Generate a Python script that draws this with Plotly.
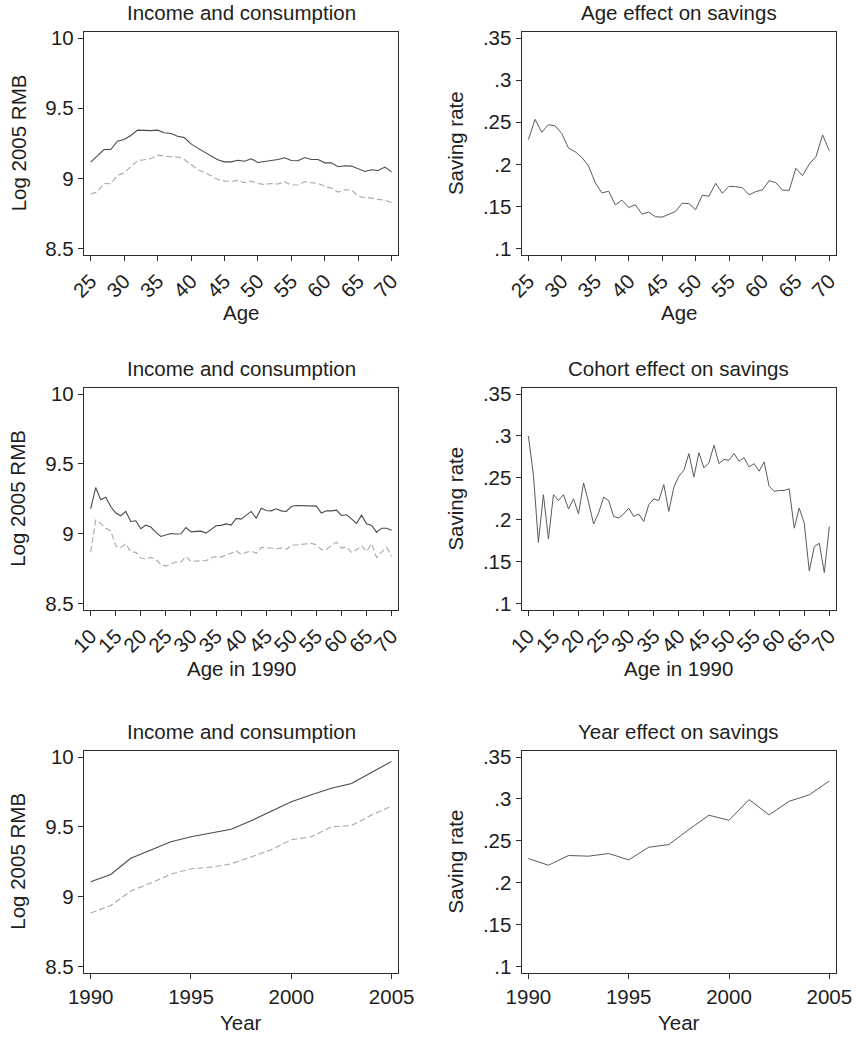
import plotly.graph_objects as go

# ---------------- data ----------------
age = list(range(25, 71))
income_age = [9.116, 9.161, 9.206, 9.206, 9.265, 9.277, 9.306, 9.344, 9.341, 9.341,
              9.344, 9.325, 9.320, 9.301, 9.291, 9.246, 9.216, 9.187, 9.159, 9.133,
              9.118, 9.118, 9.130, 9.123, 9.140, 9.114, 9.121, 9.126, 9.135, 9.147,
              9.128, 9.126, 9.149, 9.135, 9.135, 9.111, 9.111, 9.083, 9.090, 9.088,
              9.069, 9.050, 9.062, 9.057, 9.081, 9.047]
cons_age = [8.889, 8.905, 8.964, 8.962, 9.021, 9.040, 9.083, 9.126, 9.133, 9.142,
            9.166, 9.159, 9.154, 9.152, 9.135, 9.100, 9.064, 9.043, 9.017, 8.993,
            8.981, 8.979, 8.986, 8.969, 8.981, 8.964, 8.957, 8.964, 8.960, 8.976,
            8.953, 8.955, 8.976, 8.969, 8.964, 8.945, 8.931, 8.903, 8.919, 8.917,
            8.874, 8.863, 8.860, 8.851, 8.844, 8.829]
save_age = [0.2295, 0.2535, 0.2382, 0.2472, 0.2457, 0.2366, 0.2193, 0.2150, 0.2083, 0.1980,
            0.1783, 0.1661, 0.1681, 0.1520, 0.1575, 0.1488, 0.1520, 0.1409, 0.1433, 0.1378,
            0.1374, 0.1406, 0.1441, 0.1539, 0.1535, 0.1461, 0.1634, 0.1622, 0.1776, 0.1657,
            0.1740, 0.1736, 0.1724, 0.1638, 0.1677, 0.1697, 0.1807, 0.1783, 0.1693, 0.1693,
            0.1953, 0.1866, 0.2004, 0.2091, 0.2350, 0.2161]

cohort = list(range(10, 71))
income_cohort = [9.179, 9.331, 9.243, 9.262, 9.195, 9.148, 9.129, 9.160, 9.088, 9.093,
                 9.036, 9.062, 9.048, 9.010, 8.981, 8.993, 9.002, 8.998, 9.000, 9.045,
                 9.014, 9.017, 9.019, 9.005, 9.029, 9.057, 9.060, 9.071, 9.062, 9.110,
                 9.105, 9.133, 9.160, 9.112, 9.183, 9.167, 9.164, 9.179, 9.164, 9.160,
                 9.195, 9.202, 9.202, 9.200, 9.198, 9.198, 9.148, 9.164, 9.164, 9.169,
                 9.131, 9.136, 9.107, 9.074, 9.133, 9.071, 9.060, 9.012, 9.040, 9.040,
                 9.026]
cons_cohort = [8.869, 9.098, 9.074, 9.040, 9.021, 8.914, 8.900, 8.929, 8.871, 8.867,
               8.826, 8.821, 8.831, 8.817, 8.779, 8.769, 8.783, 8.798, 8.798, 8.838,
               8.802, 8.807, 8.807, 8.807, 8.826, 8.838, 8.833, 8.850, 8.860, 8.879,
               8.852, 8.867, 8.876, 8.860, 8.902, 8.900, 8.895, 8.895, 8.898, 8.888,
               8.917, 8.921, 8.921, 8.929, 8.931, 8.921, 8.886, 8.890, 8.914, 8.940,
               8.898, 8.907, 8.867, 8.886, 8.914, 8.874, 8.929, 8.831, 8.869, 8.902,
               8.838]
save_cohort = [0.300, 0.254, 0.173, 0.230, 0.177, 0.230, 0.223, 0.230, 0.213, 0.225,
               0.207, 0.244, 0.221, 0.195, 0.208, 0.227, 0.223, 0.204, 0.202, 0.207,
               0.214, 0.204, 0.207, 0.198, 0.218, 0.225, 0.223, 0.242, 0.210, 0.239,
               0.252, 0.259, 0.279, 0.251, 0.280, 0.262, 0.268, 0.289, 0.267, 0.272,
               0.271, 0.279, 0.270, 0.274, 0.263, 0.267, 0.258, 0.269, 0.240, 0.234,
               0.235, 0.235, 0.237, 0.190, 0.214, 0.196, 0.139, 0.168, 0.172, 0.137,
               0.192]

years = list(range(1990, 2006))
income_year = [9.107, 9.159, 9.275, 9.334, 9.393, 9.429, 9.455, 9.483, 9.543, 9.611,
               9.680, 9.730, 9.777, 9.810, 9.891, 9.969]
cons_year = [8.882, 8.936, 9.040, 9.097, 9.161, 9.199, 9.211, 9.235, 9.284, 9.336,
             9.408, 9.429, 9.500, 9.509, 9.585, 9.649]
save_year = [0.2288, 0.2208, 0.2324, 0.2316, 0.2348, 0.2272, 0.2423, 0.2455, 0.2634, 0.2805,
             0.2745, 0.2992, 0.2809, 0.2972, 0.3048, 0.3215]

log_ticks = [8.5, 9, 9.5, 10]
log_ticktext = ["8.5", "9", "9.5", "10"]
rate_ticks = [0.1, 0.15, 0.2, 0.25, 0.3, 0.35]
rate_ticktext = [".1", ".15", ".2", ".25", ".3", ".35"]
age_ticks = list(range(25, 71, 5))
cohort_ticks = list(range(10, 71, 5))
year_ticks = [1990, 1995, 2000, 2005]

left_titles = ["Income and consumption", "Income and consumption", "Income and consumption"]
right_titles = ["Age effect on savings", "Cohort effect on savings", "Year effect on savings"]
x_titles = ["Age", "Age in 1990", "Year"]
y_left_title = "Log 2005 RMB"
y_right_title = "Saving rate"

# ---------------- layout geometry ----------------
W, H = 856, 1037
FONT = "Liberation Sans, Arial, Helvetica, sans-serif"
TXT = "#1e1e1e"
FS = 20.5

col_px = [(84, 398.3), (521.7, 836)]
row_px = [(31.7, 255), (387.7, 610), (750.7, 972.7)]

def xd(a, b):
    return [a / W, b / W]

def yd(top, bot):
    return [1 - bot / H, 1 - top / H]

fig = go.Figure()

inc_color = "#4a4a4a"
cons_color = "#a8a8a8"
sav_color = "#5a5a5a"

rows = [
    (age, income_age, cons_age, save_age, age_ticks, [24, 71], None),
    (cohort, income_cohort, cons_cohort, save_cohort, cohort_ticks, [8.67, 71.33], None),
    (years, income_year, cons_year, save_year, year_ticks, [1989.667, 2005.333], None),
]

axis_common = dict(
    showline=True, linecolor="#2b2b2b", linewidth=1.4, mirror=True,
    ticks="outside", ticklen=5, tickwidth=1.2, tickcolor="#2b2b2b",
    showgrid=False, zeroline=False, automargin=False,
    tickfont=dict(family=FONT, size=FS, color=TXT),
)

annotations = []
idx = 0
for r, (xv, inc, cons, sav, xt, xr, _) in enumerate(rows):
    top, bot = row_px[r]
    rotated = r < 2
    for c in range(2):
        idx += 1
        xa = "x" if idx == 1 else f"x{idx}"
        ya = "y" if idx == 1 else f"y{idx}"
        if c == 0:
            fig.add_trace(go.Scatter(x=xv, y=inc, mode="lines", xaxis=xa, yaxis=ya,
                                     line=dict(color=inc_color, width=1.1), showlegend=False))
            fig.add_trace(go.Scatter(x=xv, y=cons, mode="lines", xaxis=xa, yaxis=ya,
                                     line=dict(color=cons_color, width=1.1, dash="6px,3px"),
                                     showlegend=False))
            yrange = [8.4545, 10.0455]
            ytv, ytt = log_ticks, log_ticktext
        else:
            fig.add_trace(go.Scatter(x=xv, y=sav, mode="lines", xaxis=xa, yaxis=ya,
                                     line=dict(color=sav_color, width=1.0), showlegend=False))
            yrange = [0.09242, 0.35758]
            ytv, ytt = rate_ticks, rate_ticktext
        a, b = col_px[c]
        xkey = "xaxis" if idx == 1 else f"xaxis{idx}"
        ykey = "yaxis" if idx == 1 else f"yaxis{idx}"
        fig.layout[xkey] = dict(axis_common, domain=xd(a, b), anchor=ya, range=xr,
                                tickmode="array", tickvals=xt, ticktext=[str(v) for v in xt],
                                tickangle=-45 if rotated else 0)
        fig.layout[ykey] = dict(axis_common, domain=yd(top, bot), anchor=xa, range=yrange,
                                tickmode="array", tickvals=ytv, ticktext=ytt, tickangle=0)
        cx = (a + b) / 2
        # panel title
        annotations.append(dict(text=(left_titles if c == 0 else right_titles)[r],
                                x=cx / W, y=1 - (top - 19) / H, xref="paper", yref="paper",
                                xanchor="center", yanchor="middle", showarrow=False,
                                font=dict(family=FONT, size=FS, color=TXT)))
        # x title
        xt_off = 58 if rotated else 50
        annotations.append(dict(text=x_titles[r], x=cx / W, y=1 - (bot + xt_off) / H,
                                xref="paper", yref="paper", xanchor="center", yanchor="middle",
                                showarrow=False, font=dict(family=FONT, size=FS, color=TXT)))
        # y title
        annotations.append(dict(text=y_left_title if c == 0 else y_right_title,
                                x=(a - 66) / W, y=1 - ((top + bot) / 2) / H,
                                xref="paper", yref="paper", xanchor="center", yanchor="middle",
                                textangle=-90, showarrow=False,
                                font=dict(family=FONT, size=FS, color=TXT)))

fig.update_layout(
    width=W, height=H, margin=dict(l=0, r=0, t=0, b=0),
    paper_bgcolor="white", plot_bgcolor="white",
    template="none", showlegend=False,
    annotations=annotations,
    font=dict(family=FONT, size=FS, color=TXT),
)

fig.write_html("out.html")
